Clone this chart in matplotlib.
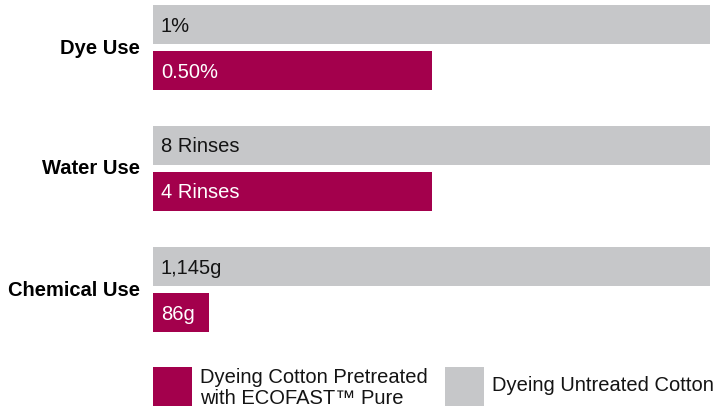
import matplotlib
matplotlib.use("Agg")
import matplotlib.pyplot as plt
from matplotlib.patches import Rectangle

# data (bar lengths as share of the untreated bar)
categories = ["Dye Use", "Water Use", "Chemical Use"]
untreated_labels = ["1%", "8 Rinses", "1,145g"]
pretreated_labels = ["0.50%", "4 Rinses", "86g"]
untreated_len = [100, 100, 100]
pretreated_len = [50, 50, 10]

legend_labels = ["Dyeing Cotton Pretreated\nwith ECOFAST\u2122 Pure",
                 "Dyeing Untreated Cotton"]

MAGENTA = "#A3004C"
GREY = "#C6C7C9"
FONT = "Liberation Sans"
FS = 14.5

W, H = 714, 410
fig = plt.figure(figsize=(W / 100, H / 100), dpi=100)

# axes spans x 153..710 px, full height; one y unit = 121 px
unit = 121.0
y0 = 48.0  # pixel centre of the first group
ax = fig.add_axes([153 / W, 0, (710 - 153) / W, 1])
ax.set_xlim(0, 100)
ax.set_ylim((H - y0) / unit, -y0 / unit)
ax.axis("off")

bar_h = 39 / unit
off = 23 / unit
pad = 8 / (710 - 153) * 100

for i, cat in enumerate(categories):
    ax.barh(i - off, untreated_len[i], height=bar_h, color=GREY, left=0)
    ax.barh(i + off, pretreated_len[i], height=bar_h, color=MAGENTA, left=0)
    ax.text(pad, i - off + 1 / unit, untreated_labels[i], va="center", ha="left",
            fontsize=FS, family=FONT, color="#141414")
    ax.text(pad, i + off + 1 / unit, pretreated_labels[i], va="center", ha="left",
            fontsize=FS, family=FONT, color="white")
    ax.text(-13 / (710 - 153) * 100, i, cat, va="center", ha="right",
            fontsize=FS, family=FONT, fontweight="bold", color="black",
            clip_on=False)

# legend
def px_rect(x, y, w, h, color):
    fig.add_artist(Rectangle((x / W, 1 - (y + h) / H), w / W, h / H,
                             transform=fig.transFigure, color=color, lw=0))

px_rect(153, 368, 39, 39, MAGENTA)
px_rect(445, 368, 39, 39, GREY)
fig.text(200 / W, 1 - 388 / H, legend_labels[0], va="center", ha="left",
         fontsize=FS, family=FONT, color="#141414", linespacing=1.12)
fig.text(492 / W, 1 - 386 / H, legend_labels[1], va="center", ha="left",
         fontsize=FS, family=FONT, color="#141414")

fig.savefig("out.png", dpi=100)
